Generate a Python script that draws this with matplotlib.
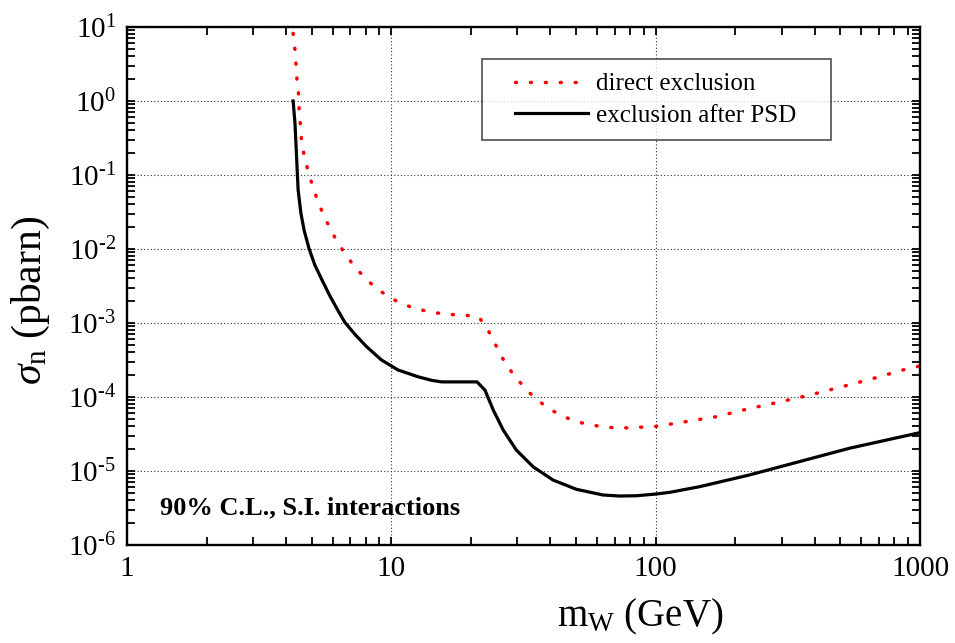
import numpy as np
import matplotlib
matplotlib.use("Agg")
import matplotlib.pyplot as plt
from matplotlib.ticker import LogLocator, FixedLocator, FixedFormatter, NullFormatter
from matplotlib.legend_handler import HandlerLine2D

# direct exclusion (red dotted)
direct_x = [4.25, 4.32, 4.36, 4.40, 4.47, 4.48, 4.54, 4.58, 4.71, 4.88, 5.08, 5.35, 5.68,
            6.08, 6.61, 7.31, 8.29, 9.45, 10.8, 12.45, 14.2, 16.2, 18.7, 21.4, 23.4, 25.0,
            27.0, 29.7, 33.5, 38.4, 43.7, 50.1, 57.6, 65.4, 75.2, 86.3, 98.5, 112.3, 169.6,
            220, 290, 382, 496, 654, 861, 1000]
direct_y = [8.2, 4.89, 3.06, 1.82, 1.14, 0.70, 0.435, 0.268, 0.164, 0.103, 0.0641, 0.0385,
            0.0239, 0.01486, 0.0091, 0.00558, 0.00352, 0.00244, 0.00185, 0.00155, 0.00140,
            0.00131, 0.00128, 0.00122, 0.00076, 0.000478, 0.000285, 0.000179, 0.000112,
            7.4e-5, 5.66e-5, 4.63e-5, 4.16e-5, 3.9e-5, 3.81e-5, 3.9e-5, 3.97e-5, 4.27e-5,
            5.42e-5, 6.82e-5, 8.47e-5, 1.06e-4, 1.35e-4, 1.75e-4, 2.32e-4, 2.62e-4]

# exclusion after PSD (black solid)
psd_x = [4.25, 4.32, 4.38, 4.44, 4.55, 4.68, 4.88, 5.14, 5.52, 5.85, 6.26, 6.67, 7.32,
         8.06, 9.18, 10.6, 12.6, 14.2, 15.5, 21.1, 22.6, 24.3, 26.5, 29.7, 34.4, 40.9,
         50.1, 63.2, 73.1, 84.6, 100.6, 113, 146.7, 226, 350, 541, 1000]
psd_y = [1.0, 0.50, 0.177, 0.0627, 0.0303, 0.0178, 0.0102, 0.00603, 0.00355, 0.00234,
         0.00151, 0.00102, 0.000689, 0.000479, 0.000316, 0.000232, 0.000188, 0.000168,
         0.00016, 0.00016, 0.000124, 6.67e-5, 3.58e-5, 1.92e-5, 1.14e-5, 7.55e-6, 5.66e-6,
         4.74e-6, 4.59e-6, 4.63e-6, 4.89e-6, 5.15e-6, 6.14e-6, 8.83e-6, 1.34e-5, 2.03e-5,
         3.3e-5]

xticks = [1, 10, 100, 1000]
xticklabels = ["1", "10", "100", "1000"]
yticks = [1e-6, 1e-5, 1e-4, 1e-3, 1e-2, 1e-1, 1e0, 1e1]
yticklabels = ["10$^{\u20106}$", "10$^{\u20105}$", "10$^{\u20104}$", "10$^{\u20103}$",
               "10$^{\u20102}$", "10$^{\u20101}$", "10$^{0}$", "10$^{1}$"]

plt.rcParams['font.family'] = ['Liberation Serif', 'DejaVu Serif']
plt.rcParams['mathtext.fontset'] = 'custom'
plt.rcParams['mathtext.rm'] = 'Liberation Serif'
plt.rcParams['mathtext.it'] = 'Liberation Serif:italic'
plt.rcParams['mathtext.bf'] = 'Liberation Serif:bold'

fig = plt.figure(figsize=(9.55, 6.43), dpi=100)
ax = fig.add_axes([127/955, 1-545/643, 793/955, 518/643])

ax.plot(direct_x, direct_y, color='#ff0000', lw=2.5, linestyle=(0, (0.3, 4.0)),
        dash_capstyle='round', label='direct exclusion')
ax.plot(psd_x, psd_y, color='black', lw=2.3, label='exclusion after PSD')

ax.set_xscale('log')
ax.set_yscale('log')
ax.set_xlim(1, 1000)
ax.set_ylim(1e-6, 1e1)

ax.xaxis.set_major_locator(FixedLocator(xticks))
ax.xaxis.set_major_formatter(FixedFormatter(xticklabels))
ax.yaxis.set_major_locator(FixedLocator(yticks))
ax.yaxis.set_major_formatter(FixedFormatter(yticklabels))
ax.xaxis.set_minor_locator(LogLocator(base=10, subs=np.arange(2, 10)))
ax.yaxis.set_minor_locator(LogLocator(base=10, subs=np.arange(2, 10)))
ax.xaxis.set_minor_formatter(NullFormatter())
ax.yaxis.set_minor_formatter(NullFormatter())

ax.tick_params(which='both', direction='in', top=True, right=True, width=1.3)
ax.tick_params(which='major', length=6, labelsize=21, pad=8)
ax.tick_params(which='minor', length=6)
for sp in ax.spines.values():
    sp.set_linewidth(1.7)

ax.grid(True, which='major', linestyle=(0, (1, 2)), color='#333333', lw=0.8)

ax.set_ylabel(r"$\sigma_{\rm n}$ (pbarn)", fontsize=30)
ax.set_xlabel(r"m$_{\rm W}$ (GeV)", fontsize=28)
ax.xaxis.set_label_coords((640-127)/793, (545-597)/518)
ax.yaxis.set_label_coords((52-127)/793, (545-300)/518)

leg = ax.legend(loc='upper left', bbox_to_anchor=(482/955, 1-149/643, 349/955, 90/643),
                bbox_transform=fig.transFigure, mode='expand', fontsize=18, frameon=True,
                fancybox=False, edgecolor='#333333', handlelength=3.68,
                borderpad=0.55, labelspacing=0.35, handletextpad=0.32, borderaxespad=0,
                handler_map={plt.Line2D: HandlerLine2D(xpad=0.76)})
leg.get_frame().set_linewidth(1.3)

ax.text(160/955, 1-508/643, "90% C.L., S.I. interactions", transform=fig.transFigure,
        fontsize=19, fontweight='bold', va='center', ha='left')

fig.savefig("out.png", dpi=100)
